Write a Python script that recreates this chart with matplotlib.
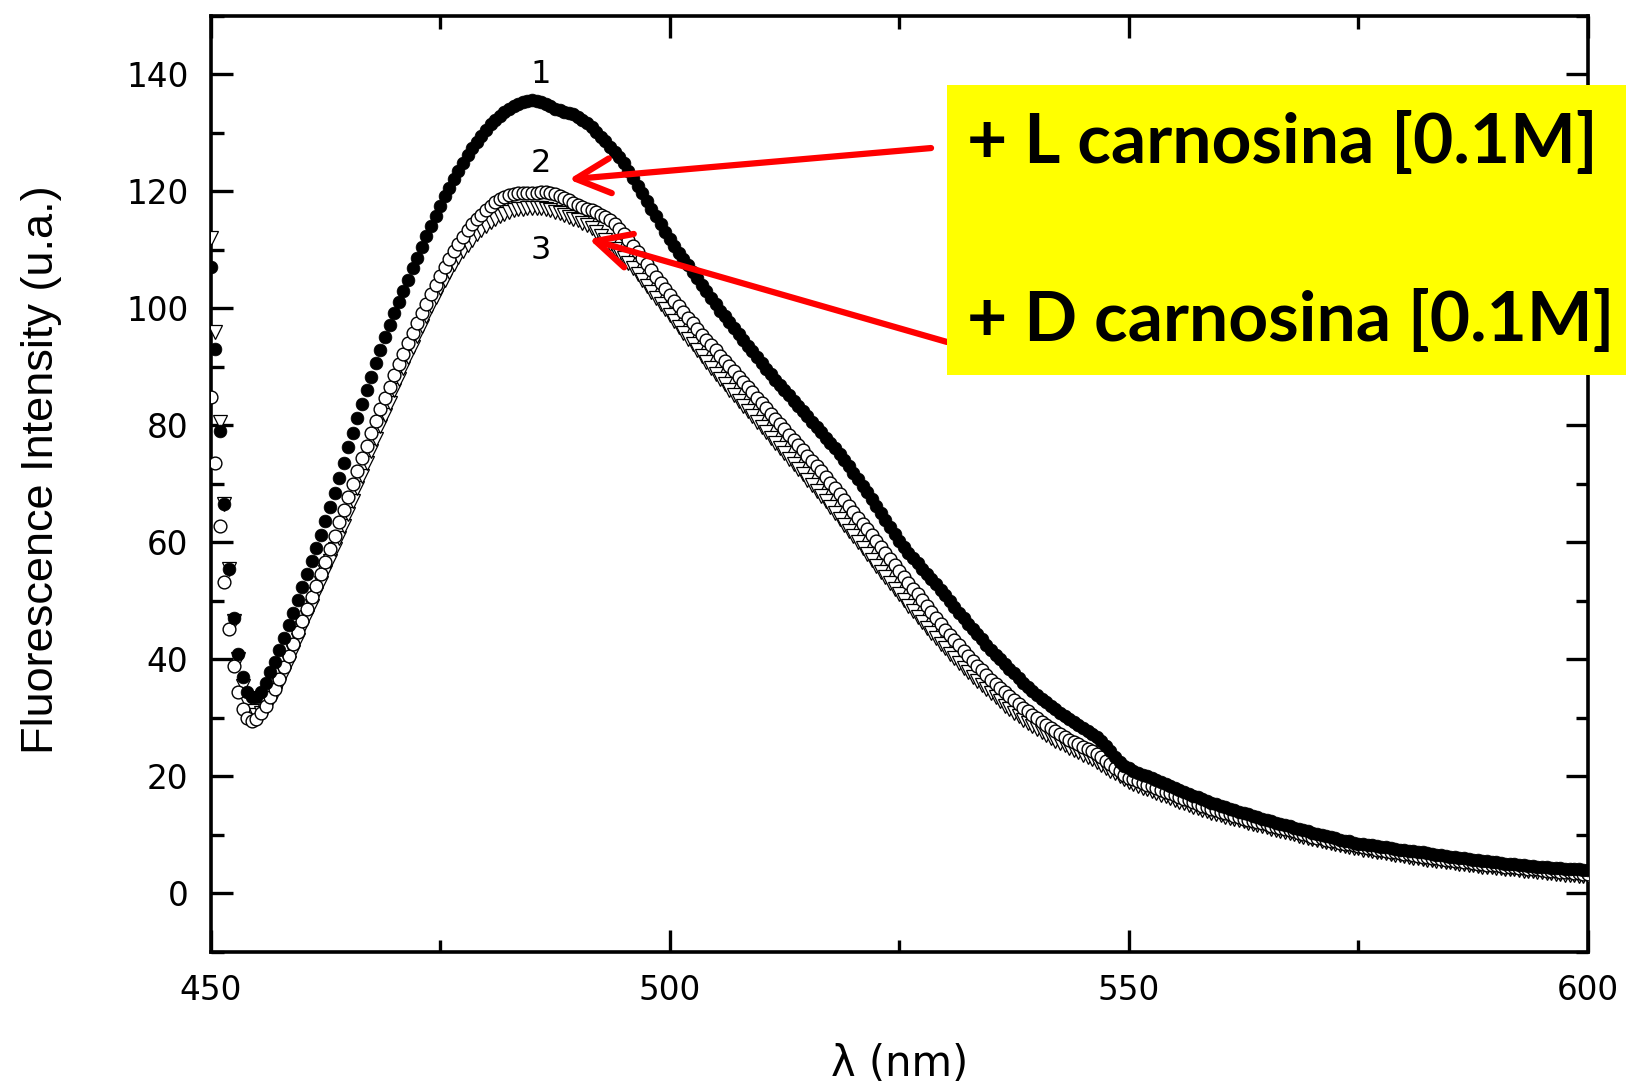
import numpy as np
import matplotlib
matplotlib.use('Agg')
import matplotlib.pyplot as plt
from matplotlib.ticker import MultipleLocator
from matplotlib.patches import Rectangle

plt.rcParams['font.family'] = ['Liberation Sans', 'DejaVu Sans']

""" 1. data (read off the spectrum, 0.5 nm steps) """
lam_start, lam_step = 450.0, 0.5

# curve 1 : reference (filled circles)
curve1 = [
    107, 93, 79, 66.5, 55.5, 47, 41, 37, 34.5, 33.5,
    33.5, 34.5, 36, 37.8, 39.6, 41.6, 43.7, 45.8, 48, 50.2,
    52.4, 54.6, 56.8, 59, 61.3, 63.6, 66, 68.5, 71, 73.6,
    76.2, 78.7, 81.2, 83.6, 86, 88.3, 90.6, 92.9, 95, 97.1,
    99.1, 101.1, 103, 104.9, 106.8, 108.6, 110.5, 112.3, 114.1, 115.8,
    117.5, 119.1, 120.6, 122.1, 123.5, 124.8, 126.1, 127.3, 128.4, 129.5,
    130.5, 131.4, 132.2, 132.9, 133.5, 134, 134.5, 134.9, 135.2, 135.4,
    135.5, 135.4, 135.2, 134.9, 134.5, 134.1, 133.8, 133.6, 133.4, 133.1,
    132.7, 132.2, 131.6, 130.9, 130.1, 129.3, 128.5, 127.6, 126.7, 125.8,
    124.8, 123.5, 122.2, 120.9, 119.6, 118.3, 117.0, 115.7, 114.4, 113.1,
    111.9, 110.7, 109.5, 108.4, 107.3, 106.2, 105.1, 104.0, 102.9, 101.8,
    100.7, 99.6, 98.6, 97.6, 96.6, 95.6, 94.6, 93.6, 92.6, 91.6,
    90.6, 89.6, 88.7, 87.8, 86.9, 86.0, 85.1, 84.2, 83.3, 82.4,
    81.5, 80.6, 79.7, 78.8, 77.9, 77.0, 76.1, 75.1, 74.1, 73.0,
    71.9, 70.8, 69.7, 68.6, 67.4, 66.2, 65.0, 63.8, 62.6, 61.4,
    60.2, 59.2, 58.2, 57.3, 56.4, 55.5, 54.6, 53.7, 52.8, 51.9,
    51.0, 50.0, 49.0, 48.0, 47.0, 46.1, 45.2, 44.3, 43.4, 42.5,
    41.6, 40.8, 40.0, 39.2, 38.4, 37.6, 36.8, 36.0, 35.3, 34.6,
    33.9, 33.3, 32.7, 32.1, 31.5, 30.9, 30.3, 29.8, 29.3, 28.8,
    28.3, 27.8, 27.3, 26.7, 26.0, 25.2, 24.3, 23.4, 22.5, 21.8,
    21.4, 21.0, 20.6, 20.3, 20.0, 19.7, 19.4, 19.0, 18.7, 18.3,
    18.0, 17.6, 17.3, 17.0, 16.7, 16.4, 16.1, 15.8, 15.5, 15.3,
    15.0, 14.8, 14.5, 14.3, 14.0, 13.8, 13.5, 13.3, 13.0, 12.8,
    12.6, 12.3, 12.1, 11.9, 11.7, 11.5, 11.2, 11.0, 10.8, 10.6,
    10.4, 10.2, 10.0, 9.8, 9.6, 9.4, 9.2, 9.0, 8.9, 8.7,
    8.5, 8.4, 8.3, 8.2, 8.1, 8.0, 7.9, 7.7, 7.6, 7.5,
    7.4, 7.3, 7.2, 7.1, 7.0, 6.9, 6.8, 6.6, 6.5, 6.4,
    6.3, 6.2, 6.1, 6.0, 5.9, 5.8, 5.7, 5.6, 5.5, 5.4,
    5.3, 5.2, 5.1, 5.0, 5.0, 4.9, 4.8, 4.7, 4.7, 4.6,
    4.5, 4.5, 4.4, 4.3, 4.3, 4.2, 4.2, 4.1, 4.1, 4.0,
    4.0]

# curve 2 : + L carnosina (open circles)
curve2 = [
    84.8, 73.5, 62.8, 53.3, 45.2, 38.9, 34.5, 31.5, 30.0, 29.4,
    29.8, 30.9, 32.1, 33.5, 35.0, 36.7, 38.7, 40.6, 42.6, 44.6,
    46.6, 48.6, 50.6, 52.6, 54.6, 56.7, 58.9, 61.1, 63.4, 65.6,
    67.8, 70.0, 72.2, 74.4, 76.5, 78.6, 80.7, 82.7, 84.7, 86.6,
    88.5, 90.4, 92.2, 94.0, 95.8, 97.5, 99.2, 100.8, 102.4, 104.0,
    105.5, 107.0, 108.4, 109.7, 111.0, 112.2, 113.3, 114.3, 115.2, 116.0,
    116.8, 117.5, 118.1, 118.6, 119.0, 119.3, 119.5, 119.6, 119.7, 119.7,
    119.7, 119.7, 119.8, 119.8, 119.7, 119.5, 119.2, 118.8, 118.4, 118.0,
    117.6, 117.3, 117.0, 116.7, 116.4, 116.0, 115.6, 115.0, 114.3, 113.5,
    112.6, 111.6, 110.6, 109.6, 108.5, 107.5, 106.5, 105.4, 104.3, 103.3,
    102.3, 101.3, 100.3, 99.3, 98.3, 97.4, 96.4, 95.5, 94.6, 93.7,
    92.8, 91.9, 91.0, 90.1, 89.2, 88.3, 87.4, 86.5, 85.6, 84.7,
    83.8, 82.9, 82.0, 81.1, 80.2, 79.3, 78.4, 77.5, 76.6, 75.7,
    74.8, 73.9, 73.0, 72.1, 71.1, 70.2, 69.2, 68.2, 67.2, 66.2,
    65.2, 64.2, 63.2, 62.2, 61.2, 60.2, 59.2, 58.2, 57.1, 56.1,
    55.1, 54.1, 53.1, 52.1, 51.1, 50.1, 49.1, 48.1, 47.1, 46.1,
    45.1, 44.2, 43.3, 42.4, 41.5, 40.6, 39.7, 38.9, 38.1, 37.3,
    36.5, 35.8, 35.1, 34.4, 33.7, 33.0, 32.3, 31.7, 31.1, 30.5,
    29.9, 29.3, 28.8, 28.3, 27.8, 27.3, 26.8, 26.3, 25.9, 25.5,
    25.1, 24.7, 24.3, 23.8, 23.3, 22.7, 22.1, 21.5, 20.9, 20.3,
    19.8, 19.5, 19.2, 18.9, 18.6, 18.3, 18.0, 17.7, 17.4, 17.1,
    16.8, 16.5, 16.2, 15.9, 15.6, 15.3, 15.0, 14.8, 14.5, 14.3,
    14.0, 13.7, 13.5, 13.2, 13.0, 12.8, 12.6, 12.4, 12.2, 12.0,
    11.8, 11.6, 11.4, 11.2, 11.0, 10.8, 10.6, 10.4, 10.2, 10.0,
    9.7, 9.5, 9.4, 9.2, 9.0, 8.9, 8.7, 8.5, 8.4, 8.2,
    8.1, 7.9, 7.8, 7.7, 7.5, 7.4, 7.3, 7.1, 7.0, 6.9,
    6.8, 6.7, 6.6, 6.4, 6.3, 6.2, 6.1, 6.0, 5.9, 5.8,
    5.7, 5.6, 5.5, 5.4, 5.3, 5.2, 5.1, 5.0, 4.9, 4.9,
    4.8, 4.7, 4.6, 4.5, 4.5, 4.4, 4.3, 4.2, 4.2, 4.1,
    4.0, 3.9, 3.9, 3.8, 3.7, 3.7, 3.6, 3.5, 3.5, 3.4,
    3.3]

# curve 3 : + D carnosina (open down triangles)
curve3 = [
    112, 96, 80.5, 66.5, 55.5, 46.5, 40, 35.5, 32.5, 31.2,
    30.5, 30.8, 31.5, 32.7, 34.1, 35.7, 37.5, 39.4, 41.3, 43.3,
    45.3, 47.2, 49.2, 51.1, 53.0, 54.9, 56.8, 58.8, 60.8, 62.8,
    64.9, 67.0, 69.2, 71.4, 73.5, 75.6, 77.7, 79.8, 81.8, 83.8,
    86.0, 87.9, 89.8, 91.6, 93.4, 95.2, 96.9, 98.6, 100.3, 101.9,
    103.4, 104.8, 106.2, 107.5, 108.7, 109.8, 110.8, 111.7, 112.6, 113.4,
    114.1, 114.7, 115.2, 115.7, 116.1, 116.4, 116.7, 116.9, 117.0, 117.1,
    117.2, 117.2, 117.1, 117.0, 116.8, 116.5, 116.2, 115.9, 115.6, 115.3,
    115.0, 114.6, 114.2, 113.7, 113.1, 112.4, 111.7, 110.9, 110.1, 109.4,
    108.6, 107.7, 106.8, 105.8, 104.8, 103.8, 102.8, 101.8, 100.8, 99.8,
    98.8, 97.8, 96.8, 95.8, 94.8, 93.8, 92.8, 91.8, 90.8, 89.8,
    88.8, 87.9, 87.0, 86.0, 85.1, 84.2, 83.3, 82.4, 81.5, 80.6,
    79.7, 78.8, 77.9, 77.0, 76.1, 75.2, 74.3, 73.4, 72.5, 71.6,
    70.7, 69.8, 68.8, 67.9, 67.0, 66.0, 65.0, 64.0, 63.0, 62.0,
    61.0, 60.0, 59.0, 58.0, 57.0, 56.0, 55.0, 54.0, 53.0, 52.0,
    51.1, 50.1, 49.2, 48.2, 47.3, 46.3, 45.4, 44.5, 43.6, 42.7,
    41.9, 41.0, 40.2, 39.4, 38.6, 37.8, 37.0, 36.3, 35.6, 34.9,
    34.2, 33.5, 32.8, 32.1, 31.5, 30.9, 30.3, 29.7, 29.1, 28.6,
    28.1, 27.6, 27.1, 26.6, 26.1, 25.7, 25.3, 24.9, 24.5, 24.1,
    23.7, 23.3, 22.9, 22.5, 22.0, 21.5, 21.0, 20.5, 20.0, 19.5,
    19.0, 18.7, 18.4, 18.1, 17.8, 17.5, 17.2, 16.9, 16.6, 16.3,
    16.0, 15.7, 15.4, 15.1, 14.8, 14.6, 14.3, 14.1, 13.8, 13.6,
    13.4, 13.1, 12.9, 12.7, 12.5, 12.3, 12.1, 11.9, 11.7, 11.5,
    11.3, 11.1, 10.9, 10.7, 10.5, 10.3, 10.1, 9.9, 9.7, 9.5,
    9.3, 9.1, 9.0, 8.8, 8.6, 8.5, 8.3, 8.1, 8.0, 7.8,
    7.7, 7.5, 7.4, 7.3, 7.1, 7.0, 6.9, 6.7, 6.6, 6.5,
    6.4, 6.3, 6.1, 6.0, 5.9, 5.8, 5.7, 5.6, 5.5, 5.4,
    5.3, 5.2, 5.1, 5.0, 4.9, 4.8, 4.7, 4.6, 4.5, 4.5,
    4.4, 4.3, 4.2, 4.1, 4.1, 4.0, 3.9, 3.8, 3.8, 3.7,
    3.6, 3.5, 3.5, 3.4, 3.3, 3.2, 3.2, 3.1, 3.0, 3.0,
    2.9]

lam = lam_start + lam_step * np.arange(len(curve1))

curve_labels = ['1', '2', '3']
box_labels = ['+ L carnosina [0.1M]', '+ D carnosina [0.1M]']

""" 2. figure """
fig = plt.figure(figsize=(16.26, 10.87), dpi=100)
ax = fig.add_axes([0.1295, 0.1242, 0.8471, 0.8615])

ax.plot(lam, curve3, 'v', ms=10, mfc='white', mec='black', mew=0.9,
        ls='none', zorder=3)
ax.plot(lam, curve2, 'o', ms=9.2, mfc='white', mec='black', mew=1.0,
        ls='none', zorder=4)
ax.plot(lam, curve1, 'o', ms=9.2, mfc='black', mec='black', mew=0.5,
        ls='none', zorder=5)

ax.set_xlim(450, 600)
ax.set_ylim(-10, 150)
ax.xaxis.set_major_locator(MultipleLocator(50))
ax.xaxis.set_minor_locator(MultipleLocator(25))
ax.yaxis.set_major_locator(MultipleLocator(20))
ax.yaxis.set_minor_locator(MultipleLocator(10))

for sp in ax.spines.values():
    sp.set_linewidth(2.6)
ax.tick_params(which='both', direction='in', top=True, right=True,
               width=2.4, labelsize=23.5)
ax.tick_params(which='major', length=16)
ax.tick_params(which='minor', length=9)
ax.tick_params(axis='y', pad=16)
ax.tick_params(axis='x', pad=16)
for lb in ax.get_xticklabels() + ax.get_yticklabels():
    lb.set_family('DejaVu Sans')

ax.set_xlabel('λ (nm)', fontsize=30, family='DejaVu Sans')
ax.xaxis.set_label_coords(0.5, -0.097)
ax.set_ylabel('Fluorescence Intensity (u.a.)', fontsize=32.5)
ax.yaxis.set_label_coords(-0.108, 0.515)

# curve numbers
for txt, yy in zip(curve_labels, [139.9, 124.7, 109.9]):
    ax.text(486, yy, txt, fontsize=23, ha='center', va='center',
            family='DejaVu Sans')

# yellow label box
box = Rectangle((0.5824, 0.655), 0.42, 0.2668, transform=fig.transFigure,
                facecolor='#ffff00', edgecolor='none', zorder=10)
fig.add_artist(box)
fig.text(0.5947, 0.868, box_labels[0], fontsize=50, fontweight='bold',
         family='Lato', va='center', ha='left', zorder=11)
fig.text(0.5947, 0.705, box_labels[1], fontsize=50, fontweight='bold',
         family='Lato', va='center', ha='left', zorder=11)

# red arrows from the box to the curves
arr = dict(arrowstyle='->,head_length=1.0,head_width=0.5', color='red',
           lw=4.5, mutation_scale=25, shrinkA=0, shrinkB=0)
ax.annotate('', xy=(489.0, 122.0), xycoords='data',
            xytext=(0.5726, 0.8638), textcoords='figure fraction',
            arrowprops=arr, zorder=9)
ax.annotate('', xy=(491.2, 111.8), xycoords='data',
            xytext=(0.5824, 0.6854), textcoords='figure fraction',
            arrowprops=arr, zorder=9)

fig.savefig('out.png', dpi=100)
